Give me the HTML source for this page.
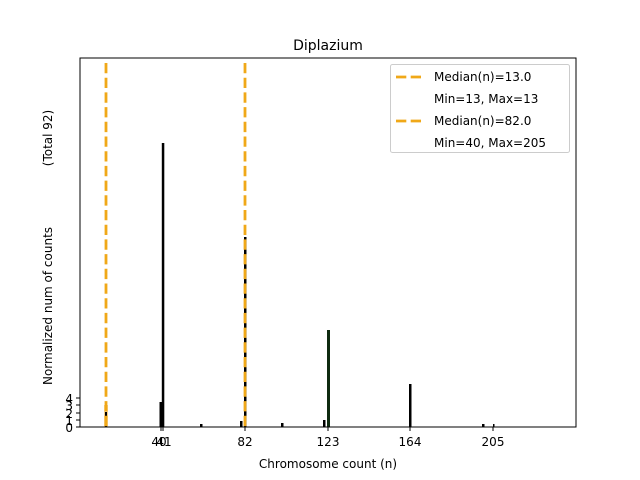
<!DOCTYPE html>
<html><head><meta charset="utf-8"><style>
body{margin:0;background:#fff;}
svg{display:block;font-family:"DejaVu Sans","Liberation Sans",sans-serif;}
</style></head><body>
<svg width="640" height="480" viewBox="0 0 640 480" xmlns="http://www.w3.org/2000/svg">
<rect width="640" height="480" fill="#fff"/>
<!-- bars -->
<rect x="104" y="405" width="4" height="22" fill="#f0b040" opacity="0.6"/>
<rect x="105" y="412" width="2" height="15" fill="#000"/>
<rect x="159.5" y="402" width="2.5" height="25" fill="#000"/>
<rect x="161.8" y="143" width="2.5" height="284" fill="#000"/>
<rect x="200" y="424" width="2.5" height="3" fill="#000"/>
<rect x="240" y="421" width="2.5" height="6" fill="#000"/>
<rect x="244" y="237" width="2.5" height="190" fill="#000"/>
<rect x="281" y="423" width="2.5" height="4" fill="#000"/>
<rect x="323" y="420" width="2.5" height="7" fill="#000"/>
<rect x="327" y="330" width="3" height="97" fill="#0f2a10"/>
<rect x="409" y="384" width="2.5" height="43" fill="#000"/>
<rect x="482" y="424" width="2.5" height="3" fill="#000"/>
<rect x="493" y="424" width="1.5" height="3" fill="#000"/>
<!-- median lines -->
<line x1="106" y1="63" x2="106" y2="427" stroke="#f0a818" stroke-width="2.8" stroke-dasharray="10.3,4.4"/>
<line x1="245" y1="63" x2="245" y2="427" stroke="#f0a818" stroke-width="2.8" stroke-dasharray="10.3,4.4"/>
<!-- axes -->
<rect x="80" y="58" width="496" height="369" fill="none" stroke="#000" stroke-width="1"/>
<g stroke="#000">
<line x1="161" y1="427" x2="161" y2="431"/><line x1="163" y1="427" x2="163" y2="431"/>
<line x1="245" y1="427" x2="245" y2="431"/><line x1="328" y1="427" x2="328" y2="431"/>
<line x1="410" y1="427" x2="410" y2="431"/><line x1="493" y1="427" x2="493" y2="431"/>
<line x1="76" y1="427" x2="80" y2="427"/><line x1="76" y1="420" x2="80" y2="420"/>
<line x1="76" y1="413" x2="80" y2="413"/><line x1="76" y1="405" x2="80" y2="405"/>
<line x1="76" y1="398" x2="80" y2="398"/>
</g>
<g font-size="12" fill="#000" text-anchor="middle">
<text x="159" y="446">40</text><text x="164" y="446">41</text>
<text x="245" y="446">82</text><text x="328" y="446">123</text>
<text x="410" y="446">164</text><text x="493" y="446">205</text>
</g>
<g font-size="12" fill="#000" text-anchor="end">
<text x="73" y="432">0</text><text x="73" y="425">1</text><text x="73" y="418">2</text>
<text x="73" y="410">3</text><text x="73" y="403">4</text>
</g>
<text x="328" y="468" font-size="12" text-anchor="middle">Chromosome count (n)</text>
<text transform="translate(52,306) rotate(-90)" font-size="12" text-anchor="middle">Normalized num of counts</text>
<text transform="translate(52,138) rotate(-90)" font-size="12" text-anchor="middle">(Total 92)</text>
<text x="328" y="50" font-size="14" text-anchor="middle">Diplazium</text>
<!-- legend -->
<rect x="390.5" y="64.5" width="179" height="88" rx="2" fill="#fff" fill-opacity="0.8" stroke="#ccc"/>
<line x1="396" y1="77" x2="424" y2="77" stroke="#f0a818" stroke-width="2.8" stroke-dasharray="10.3,4.4"/>
<line x1="396" y1="121" x2="424" y2="121" stroke="#f0a818" stroke-width="2.8" stroke-dasharray="10.3,4.4"/>
<g font-size="12" fill="#000">
<text x="434" y="81">Median(n)=13.0</text>
<text x="434" y="103">Min=13, Max=13</text>
<text x="434" y="125">Median(n)=82.0</text>
<text x="434" y="147">Min=40, Max=205</text>
</g>
</svg>
</body></html>
